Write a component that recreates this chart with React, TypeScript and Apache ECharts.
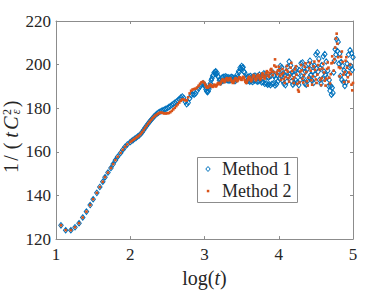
import React, { useEffect, useRef } from 'react';
import * as echarts from 'echarts';

const xTicks = [1, 5, 1]; // min, max, interval
const yTicks = [120, 220, 20];
const legendLabels = ['Method 1', 'Method 2'];

// shared early samples (both methods coincide)
const earlyShared: number[][] = [
  [1.067, 126.3], [1.13, 124.1], [1.2, 124.1], [1.256, 125.4], [1.31, 127.3], [1.36, 129.9],
  [1.41, 132.6], [1.46, 135.6], [1.5, 138.3], [1.55, 141.2], [1.59, 143.9], [1.63, 146.3],
  [1.66, 148.4], [1.7, 150.5], [1.74, 152.6], [1.77, 154.4], [1.8, 156.2], [1.83, 157.8],
  [1.87, 159.5], [1.9, 161.0], [1.93, 162.3], [1.96, 163.4],
];

const m1Mid: number[][] = [
  [2.0, 164.5], [2.02, 165.0], [2.04, 165.5], [2.06, 166.0], [2.08, 166.5], [2.1, 167.0],
  [2.12, 167.5], [2.14, 168.2], [2.16, 169.0], [2.18, 170.0], [2.2, 171.0], [2.22, 172.0],
  [2.24, 172.9], [2.26, 173.8], [2.28, 174.6], [2.3, 175.4], [2.32, 176.2], [2.34, 176.9],
  [2.36, 177.5], [2.38, 178.0], [2.4, 178.4], [2.42, 178.8], [2.44, 179.1], [2.46, 179.4],
  [2.48, 179.7], [2.5, 180.1], [2.52, 180.5], [2.54, 181.0], [2.56, 181.5], [2.58, 182.0],
  [2.6, 182.5], [2.62, 183.0], [2.64, 183.5], [2.66, 184.2], [2.68, 184.9], [2.7, 185.4],
  [2.72, 184.8], [2.74, 183.0], [2.76, 181.8], [2.78, 182.5], [2.8, 184.5], [2.82, 186.0],
  [2.84, 186.5], [2.86, 186.2], [2.88, 186.8], [2.9, 188.0], [2.92, 189.0], [2.94, 190.0],
  [2.96, 190.8], [2.98, 191.5],
];

const m2Mid: number[][] = [
  [2.0, 164.5], [2.02, 165.0], [2.04, 165.5], [2.06, 166.0], [2.08, 166.5], [2.1, 167.0],
  [2.12, 167.5], [2.14, 168.2], [2.16, 169.0], [2.18, 170.0], [2.2, 171.0], [2.22, 172.0],
  [2.24, 172.9], [2.26, 173.8], [2.28, 174.6], [2.3, 175.4], [2.32, 176.1], [2.34, 176.7],
  [2.36, 177.2], [2.38, 177.6], [2.4, 178.0], [2.42, 178.0], [2.44, 177.8], [2.46, 177.6],
  [2.48, 177.6], [2.5, 177.7], [2.52, 177.8], [2.54, 178.2], [2.56, 178.8], [2.58, 179.5],
  [2.6, 180.2], [2.62, 181.0], [2.64, 181.8], [2.66, 182.6], [2.68, 183.4], [2.7, 184.0],
  [2.72, 184.0], [2.74, 183.6], [2.76, 183.6], [2.78, 185.0], [2.8, 186.8], [2.82, 188.0],
  [2.84, 188.6], [2.86, 188.8], [2.88, 189.0], [2.9, 189.5], [2.92, 190.3], [2.94, 191.2],
  [2.96, 191.9], [2.98, 192.2],
];

const m1Late: number[][] = [
  [3.0, 190.8], [3.01, 189.8], [3.02, 188.6], [3.03, 187.8], [3.04, 187.4], [3.05, 187.8], [3.06, 188.8], [3.07, 190.2], [3.08, 191.4], [3.09, 192.8],
  [3.1, 193.6], [3.11, 194.8], [3.12, 195.2], [3.13, 196.4], [3.14, 196.0], [3.15, 197.0], [3.16, 195.8], [3.17, 196.2], [3.18, 194.6], [3.19, 194.4],
  [3.2, 192.8], [3.21, 193.0], [3.22, 191.8], [3.23, 192.6], [3.24, 194.2], [3.25, 192.6], [3.26, 194.4], [3.27, 192.8], [3.28, 194.6], [3.29, 193.0],
  [3.3, 194.4], [3.31, 192.8], [3.32, 194.2], [3.33, 192.6], [3.34, 194.0], [3.35, 192.8], [3.36, 194.4], [3.37, 193.2], [3.38, 194.2], [3.39, 192.6],
  [3.4, 193.8], [3.41, 192.4], [3.42, 194.0], [3.43, 193.0], [3.44, 195.4], [3.45, 194.4], [3.46, 197.0], [3.47, 196.6], [3.48, 198.6], [3.49, 198.0],
  [3.5, 199.4], [3.51, 198.6], [3.52, 198.8], [3.53, 196.8], [3.54, 196.4], [3.55, 194.2], [3.56, 193.6], [3.57, 192.4], [3.58, 194.4], [3.59, 192.6],
  [3.6, 194.6], [3.61, 192.2], [3.62, 194.8], [3.63, 192.4], [3.64, 194.2], [3.65, 192.0], [3.66, 194.6], [3.67, 192.6], [3.68, 195.0], [3.69, 192.8],
  [3.7, 194.4], [3.71, 192.2], [3.72, 194.8], [3.73, 192.4], [3.74, 195.4], [3.75, 193.0], [3.76, 194.6], [3.77, 191.8], [3.78, 195.2], [3.79, 192.0],
  [3.8, 196.0], [3.81, 191.2], [3.82, 195.4], [3.83, 191.4], [3.84, 194.4], [3.85, 190.8], [3.86, 194.0], [3.87, 191.0], [3.88, 194.6], [3.89, 190.6],
  [3.9, 195.0], [3.91, 191.2], [3.92, 196.4], [3.93, 191.4], [3.94, 194.8], [3.95, 190.4], [3.96, 193.6], [3.97, 191.0], [3.98, 195.2], [3.99, 192.4],
  [4.0, 197.0], [4.01, 193.6], [4.02, 199.4], [4.03, 194.8], [4.04, 198.8], [4.05, 192.6], [4.06, 196.0], [4.07, 191.2], [4.08, 195.0], [4.09, 190.6],
  [4.1, 196.8], [4.11, 192.2], [4.12, 199.0], [4.13, 194.4], [4.14, 201.4], [4.15, 195.6], [4.16, 199.6], [4.17, 192.4], [4.18, 196.4], [4.19, 190.8],
  [4.2, 195.2], [4.21, 191.6], [4.22, 197.6], [4.23, 192.8], [4.24, 198.4], [4.25, 191.8], [4.26, 196.0], [4.27, 190.6], [4.28, 197.4], [4.29, 193.0],
  [4.3, 200.6], [4.31, 194.6], [4.32, 201.0], [4.33, 193.8], [4.34, 198.6], [4.35, 191.4], [4.36, 196.8], [4.37, 190.8], [4.38, 197.8], [4.39, 192.6],
  [4.4, 200.2], [4.41, 194.0], [4.42, 201.8], [4.43, 195.2], [4.44, 199.6], [4.45, 192.6], [4.46, 197.0], [4.47, 191.6], [4.48, 199.6], [4.49, 195.4],
  [4.5, 204.6], [4.51, 198.2], [4.52, 205.6], [4.53, 196.8], [4.54, 202.6], [4.55, 193.0], [4.56, 198.4], [4.57, 191.2], [4.58, 199.8], [4.59, 193.6],
  [4.6, 203.8], [4.61, 196.8], [4.62, 204.8], [4.63, 195.2], [4.64, 201.4], [4.65, 194.0], [4.66, 197.2], [4.67, 190.2], [4.68, 193.0], [4.69, 188.0],
  [4.7, 190.2], [4.71, 186.2], [4.72, 189.4], [4.73, 187.0], [4.74, 196.4], [4.75, 201.8], [4.76, 207.0], [4.77, 204.6], [4.78, 211.6], [4.79, 206.2],
  [4.8, 210.4], [4.81, 200.4], [4.82, 205.0], [4.83, 194.8], [4.84, 201.2], [4.85, 193.0], [4.86, 199.4], [4.87, 192.0], [4.88, 197.2], [4.89, 190.2],
  [4.9, 196.4], [4.91, 191.8], [4.92, 200.4], [4.93, 195.4], [4.94, 204.6], [4.95, 198.8], [4.96, 206.6], [4.97, 199.4], [4.98, 205.2], [4.99, 197.6],
  [5.0, 203.4],
];

const m2Late: number[][] = [
  [3.0, 191.6], [3.01, 190.8], [3.02, 190.0], [3.03, 189.6], [3.04, 189.4], [3.05, 189.6], [3.06, 190.0], [3.07, 190.6], [3.08, 190.8], [3.09, 190.4],
  [3.1, 190.0], [3.11, 189.8], [3.12, 190.2], [3.13, 190.8], [3.14, 190.6], [3.15, 190.0], [3.16, 190.2], [3.17, 190.8], [3.18, 191.4], [3.19, 191.6],
  [3.2, 191.2], [3.21, 191.0], [3.22, 191.6], [3.23, 192.4], [3.24, 193.0], [3.25, 193.2], [3.26, 192.6], [3.27, 192.0], [3.28, 192.6], [3.29, 193.4],
  [3.3, 193.8], [3.31, 193.4], [3.32, 192.8], [3.33, 193.2], [3.34, 193.8], [3.35, 193.6], [3.36, 192.8], [3.37, 192.2], [3.38, 191.6], [3.39, 191.8],
  [3.4, 192.6], [3.41, 193.4], [3.42, 193.8], [3.43, 193.2], [3.44, 192.4], [3.45, 192.8], [3.46, 193.6], [3.47, 194.2], [3.48, 194.0], [3.49, 193.2],
  [3.5, 193.0], [3.51, 193.8], [3.52, 194.4], [3.53, 194.0], [3.54, 193.0], [3.55, 192.2], [3.56, 191.6], [3.57, 191.8], [3.58, 192.8], [3.59, 193.8],
  [3.6, 194.4], [3.61, 194.0], [3.62, 193.0], [3.63, 192.4], [3.64, 193.2], [3.65, 194.4], [3.66, 195.2], [3.67, 194.8], [3.68, 193.6], [3.69, 192.8],
  [3.7, 193.4], [3.71, 194.6], [3.72, 195.4], [3.73, 195.0], [3.74, 193.8], [3.75, 193.0], [3.76, 193.8], [3.77, 195.0], [3.78, 196.0], [3.79, 195.4],
  [3.8, 194.2], [3.81, 193.6], [3.82, 194.6], [3.83, 196.0], [3.84, 197.0], [3.85, 196.4], [3.86, 195.0], [3.87, 194.4], [3.88, 196.2], [3.89, 197.6],
  [3.9, 198.0], [3.91, 196.8], [3.92, 195.2], [3.93, 196.6], [3.94, 199.6], [3.95, 202.4], [3.96, 199.0], [3.97, 196.4], [3.98, 195.6], [3.99, 197.4],
  [4.0, 199.0], [4.01, 197.2], [4.02, 194.8], [4.03, 193.0], [4.04, 195.6], [4.05, 198.0], [4.06, 196.2], [4.07, 193.4], [4.08, 191.6], [4.09, 194.4],
  [4.1, 197.6], [4.11, 199.4], [4.12, 196.8], [4.13, 193.8], [4.14, 192.2], [4.15, 195.0], [4.16, 198.6], [4.17, 200.8], [4.18, 197.0], [4.19, 193.4],
  [4.2, 191.6], [4.21, 194.2], [4.22, 197.8], [4.23, 199.2], [4.24, 195.4], [4.25, 191.2], [4.26, 188.4], [4.27, 187.6], [4.28, 192.0], [4.29, 196.8],
  [4.3, 199.8], [4.31, 197.4], [4.32, 193.6], [4.33, 191.8], [4.34, 195.2], [4.35, 199.0], [4.36, 200.6], [4.37, 196.6], [4.38, 192.4], [4.39, 190.4],
  [4.4, 194.0], [4.41, 198.4], [4.42, 200.8], [4.43, 197.2], [4.44, 192.8], [4.45, 190.8], [4.46, 194.6], [4.47, 199.2], [4.48, 201.4], [4.49, 197.6],
  [4.5, 193.2], [4.51, 191.6], [4.52, 195.4], [4.53, 199.8], [4.54, 201.6], [4.55, 197.8], [4.56, 193.0], [4.57, 190.6], [4.58, 193.8], [4.59, 198.2],
  [4.6, 200.4], [4.61, 196.4], [4.62, 192.6], [4.63, 190.4], [4.64, 193.6], [4.65, 198.0], [4.66, 201.0], [4.67, 198.6], [4.68, 194.0], [4.69, 191.4],
  [4.7, 195.6], [4.71, 200.6], [4.72, 203.8], [4.73, 201.0], [4.74, 197.2], [4.75, 202.4], [4.76, 207.8], [4.77, 212.0], [4.78, 214.2], [4.79, 209.6],
  [4.8, 203.4], [4.81, 198.8], [4.82, 194.6], [4.83, 198.4], [4.84, 203.6], [4.85, 206.0], [4.86, 201.2], [4.87, 195.4], [4.88, 192.0], [4.89, 196.6],
  [4.9, 201.8], [4.91, 203.4], [4.92, 198.6], [4.93, 194.2], [4.94, 192.2], [4.95, 196.4], [4.96, 200.0], [4.97, 195.6], [4.98, 190.8], [4.99, 188.2],
  [5.0, 191.6],
];

const FONT = "'Liberation Serif', 'DejaVu Serif', serif";
const AX = '#8c8c8c';
const TXT = '#262626';
const BLUE = '#0072BD';
const ORANGE = '#D95319';

export default function App() {
  const ref = useRef<HTMLDivElement>(null);
  useEffect(() => {
    if (!ref.current) return;
    const chart = echarts.init(ref.current, undefined, { renderer: 'svg' });
    const axisCommon = (pos: string, min: number, max: number, interval: number, showLabel: boolean) => ({
      type: 'value',
      position: pos,
      min,
      max,
      interval,
      axisLine: { show: true, onZero: false, lineStyle: { color: AX, width: 1 } },
      axisTick: { show: true, inside: true, length: 3, lineStyle: { color: AX } },
      splitLine: { show: false },
      axisLabel: showLabel
        ? { show: true, color: TXT, fontFamily: FONT, fontSize: 17, margin: pos === 'left' ? 5 : 7 }
        : { show: false },
    });
    const yLabelParts = [
      { t: '1', x: 11, y: 168, size: 20, italic: false },
      { t: '/', x: 11, y: 158, size: 20, italic: false },
      { t: '(', x: 11, y: 146, size: 20, italic: false },
      { t: 't', x: 11, y: 135, size: 20, italic: true },
      { t: 'C', x: 11, y: 123, size: 20, italic: true },
      { t: '2', x: 6.5, y: 112, size: 12, italic: false },
      { t: 'ε', x: 16, y: 112, size: 12, italic: true },
      { t: ')', x: 11, y: 104, size: 20, italic: false },
    ];
    const graphic: any[] = yLabelParts.map((p) => ({
      type: 'text',
      x: p.x,
      y: p.y,
      rotation: Math.PI / 2,
      z: 100,
      style: {
        text: p.t,
        font: (p.italic ? 'italic ' : '') + p.size + 'px ' + FONT,
        fill: TXT,
        align: 'center',
        verticalAlign: 'middle',
      },
    }));
    graphic.push(
      {
        type: 'rect',
        z: 100,
        shape: { x: 197.5, y: 157.5, width: 100, height: 45 },
        style: { fill: '#ffffff', stroke: AX, lineWidth: 1 },
      },
      {
        type: 'polygon',
        z: 101,
        shape: { points: [[208, 166.5], [210.2, 169], [208, 171.5], [205.8, 169]] },
        style: { fill: 'none', stroke: BLUE, lineWidth: 1 },
      },
      {
        type: 'rect',
        z: 101,
        shape: { x: 206.8, y: 189.8, width: 2.5, height: 2.5 },
        style: { fill: ORANGE },
      },
      {
        type: 'text',
        z: 101,
        x: 222,
        y: 169,
        style: { text: legendLabels[0], font: '18px ' + FONT, fill: TXT, align: 'left', verticalAlign: 'middle' },
      },
      {
        type: 'text',
        z: 101,
        x: 222,
        y: 191,
        style: { text: legendLabels[1], font: '18px ' + FONT, fill: TXT, align: 'left', verticalAlign: 'middle' },
      }
    );

    chart.setOption({
      animation: false,
      textStyle: { fontFamily: FONT },
      grid: { left: 56, right: 37, top: 21, bottom: 50, containLabel: false },
      xAxis: [
        {
          ...axisCommon('bottom', xTicks[0], xTicks[1], xTicks[2], true),
          name: 'log({i|t})',
          nameLocation: 'middle',
          nameGap: 26,
          nameTextStyle: {
            fontFamily: FONT,
            fontSize: 20,
            color: TXT,
            rich: { i: { fontFamily: FONT, fontSize: 20, fontStyle: 'italic', color: TXT } },
          },
        },
        axisCommon('top', xTicks[0], xTicks[1], xTicks[2], false),
      ],
      yAxis: [
        axisCommon('left', yTicks[0], yTicks[1], yTicks[2], true),
        axisCommon('right', yTicks[0], yTicks[1], yTicks[2], false),
      ],
      series: [
        {
          type: 'scatter',
          name: legendLabels[0],
          xAxisIndex: 0,
          yAxisIndex: 0,
          data: [...earlyShared, ...m1Mid, ...m1Late],
          symbol: 'diamond',
          symbolSize: [4.5, 5.5],
          itemStyle: { color: 'rgba(0,0,0,0)', borderColor: BLUE, borderWidth: 1, opacity: 1 },
          z: 2,
        },
        {
          type: 'scatter',
          name: legendLabels[1],
          xAxisIndex: 0,
          yAxisIndex: 0,
          data: [...earlyShared, ...m2Mid, ...m2Late],
          symbol: 'rect',
          symbolSize: 2.6,
          itemStyle: { color: ORANGE, opacity: 1 },
          z: 3,
        },
      ],
      graphic,
    });
    return () => chart.dispose();
  }, []);
  return (
    <div
      ref={ref}
      style={{ position: 'fixed', left: 0, top: 0, width: 390, height: 293, background: '#ffffff' }}
    />
  );
}
